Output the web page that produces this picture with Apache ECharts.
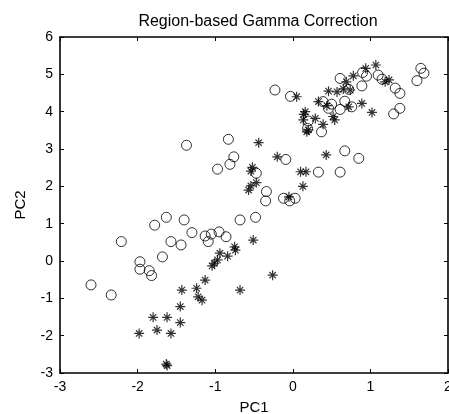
<!DOCTYPE html>
<html>
<head>
<meta charset="utf-8">
<script src="https://cdn.jsdelivr.net/npm/echarts@6/dist/echarts.min.js"></script>
<style>
  html, body { margin: 0; padding: 0; background: #fff; }
  #chart { width: 449px; height: 414px; }
</style>
</head>
<body>
<div id="chart"></div>
<script>
// values (PC1, PC2)
const circlePoints = [
  [-0.23, 4.58], [-0.03, 4.41], [0.61, 4.89], [0.90, 5.05], [0.95, 4.95], [0.89, 4.69],
  [1.10, 4.98], [1.15, 4.87], [1.32, 4.63], [1.38, 4.49], [1.65, 5.16], [1.69, 5.03],
  [1.60, 4.83], [1.38, 4.09], [1.30, 3.94], [0.39, 4.27], [0.50, 4.20], [0.46, 4.09],
  [0.61, 4.06], [0.67, 4.28], [0.76, 4.13], [0.72, 4.60], [0.37, 3.46], [0.19, 3.55],
  [0.20, 3.75], [0.67, 2.95], [0.85, 2.75], [0.33, 2.38], [0.61, 2.38],
  [-1.37, 3.10], [-0.83, 3.26], [-0.76, 2.79], [-0.81, 2.59], [-0.97, 2.46], [-0.47, 2.35],
  [-0.09, 2.72], [-0.34, 1.86], [-0.35, 1.61], [-0.12, 1.68], [-0.04, 1.61], [0.03, 1.68],
  [-1.40, 1.10], [-0.68, 1.10], [-0.48, 1.17], [-1.30, 0.76], [-1.13, 0.67], [-1.05, 0.72],
  [-0.95, 0.78], [-0.86, 0.65], [-1.09, 0.52], [-1.44, 0.43],
  [-1.63, 1.17], [-1.78, 0.96], [-1.57, 0.52], [-2.21, 0.52], [-1.68, 0.11], [-1.97, -0.02],
  [-1.97, -0.22], [-1.85, -0.26], [-1.82, -0.39], [-2.60, -0.64], [-2.34, -0.91]
]

const starPoints = [
  [0.05, 4.40], [0.46, 4.55], [0.57, 4.53], [0.65, 4.61], [0.69, 4.80], [0.78, 4.96],
  [0.94, 5.16], [1.07, 5.25], [1.19, 4.80], [1.24, 4.85], [0.74, 4.58], [0.33, 4.27],
  [0.44, 4.16], [0.89, 4.22], [1.02, 3.98], [0.16, 4.00], [0.135, 3.78], [0.29, 3.82],
  [0.20, 3.51], [0.39, 3.66], [0.52, 3.87], [0.54, 3.78], [0.72, 4.13], [0.14, 3.93],
  [0.18, 3.46],
  [-0.44, 3.17], [-0.20, 2.79], [0.43, 2.84], [-0.52, 2.51], [-0.54, 2.41], [-0.47, 2.10],
  [-0.54, 2.01], [-0.57, 1.90], [0.10, 2.39], [0.17, 2.39], [0.13, 2.00], [-0.05, 1.72],
  [-0.51, 0.56], [-0.75, 0.38], [-0.74, 0.29], [-0.84, 0.13], [-0.94, 0.21], [-0.97, 0.03],
  [-1.01, -0.06], [-1.04, -0.13], [-1.13, -0.51], [-0.26, -0.38], [-0.68, -0.78],
  [-1.24, -0.73], [-1.22, -0.96], [-1.17, -1.05],
  [-1.43, -0.78], [-1.45, -1.22], [-1.80, -1.51], [-1.62, -1.51], [-1.45, -1.65],
  [-1.98, -1.94], [-1.75, -1.85], [-1.57, -1.94], [-1.63, -2.76], [-1.62, -2.80]
]

const xRange = [-3, 2]
const yRange = [-3, 6]

const FONT = 'Liberation Sans, Arial, sans-serif'
const STAR = 'path://M5,0L5,10M0,5L10,5M1.8,1.8L8.2,8.2M8.2,1.8L1.8,8.2'

function axisBase (extra) {
  return Object.assign({
    type: 'value',
    interval: 1,
    splitLine: { show: false },
    axisLine: { show: true, onZero: false, lineStyle: { color: '#000', width: 1.6 } },
    axisTick: { show: true, inside: true, length: 4, lineStyle: { color: '#000' } },
    axisLabel: { color: '#000', fontFamily: FONT, fontSize: 14 }
  }, extra)
}

const chart = echarts.init(document.getElementById('chart'), null, { renderer: 'canvas' })
chart.setOption({
  animation: false,
  backgroundColor: '#fff',
  title: {
    text: 'Region-based Gamma Correction',
    left: 253,
    textAlign: 'center',
    top: 9,
    textStyle: { color: '#000', fontFamily: FONT, fontSize: 16, fontWeight: 'normal' }
  },
  grid: { left: 60, right: 1, top: 37, bottom: 41, containLabel: false, outerBoundsMode: 'none' },
  xAxis: [
    axisBase({
      min: xRange[0], max: xRange[1], position: 'bottom',
      name: 'PC1', nameLocation: 'middle', nameGap: 27,
      nameTextStyle: { color: '#000', fontFamily: FONT, fontSize: 15 },
      axisLabel: { color: '#000', fontFamily: FONT, fontSize: 14, margin: 7 }
    }),
    axisBase({ min: xRange[0], max: xRange[1], position: 'top', axisLabel: { show: false } })
  ],
  yAxis: [
    axisBase({
      min: yRange[0], max: yRange[1], position: 'left',
      name: 'PC2', nameLocation: 'middle', nameGap: 32,
      nameTextStyle: { color: '#000', fontFamily: FONT, fontSize: 15 },
      axisLabel: { color: '#000', fontFamily: FONT, fontSize: 14, margin: 7 }
    }),
    axisBase({ min: yRange[0], max: yRange[1], position: 'right', axisLabel: { show: false } })
  ],
  series: [
    {
      type: 'scatter',
      data: circlePoints,
      symbol: 'circle',
      symbolSize: 10,
      itemStyle: { color: 'rgba(0,0,0,0)', borderColor: '#000', borderWidth: 1 }
    },
    {
      type: 'scatter',
      data: starPoints,
      symbol: STAR,
      symbolSize: 10,
      itemStyle: { color: 'rgba(0,0,0,0)', borderColor: '#000', borderWidth: 1.2 }
    }
  ]
})
</script>
</body>
</html>
